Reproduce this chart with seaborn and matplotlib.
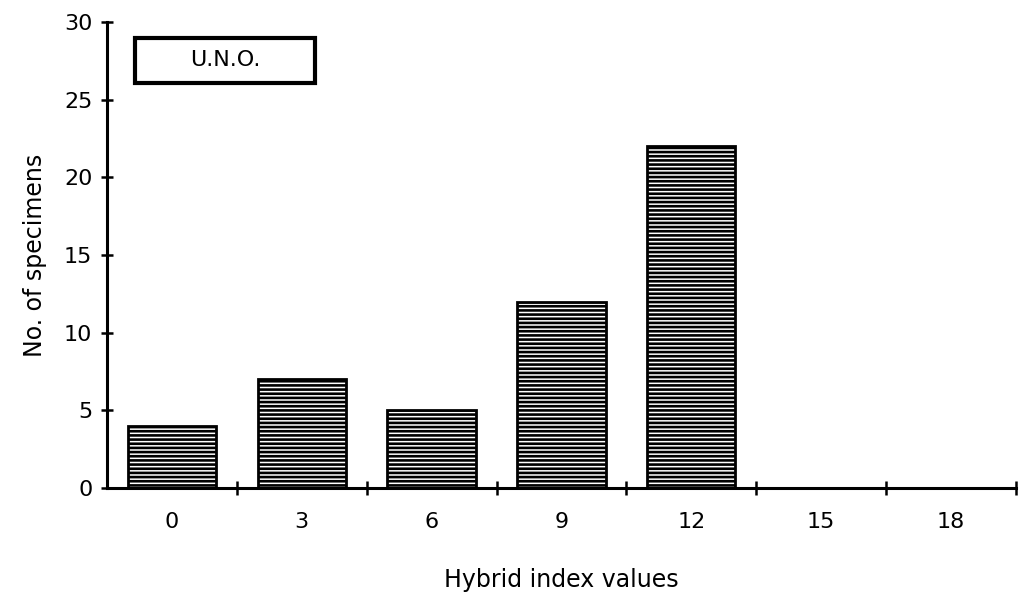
import numpy as np
import pandas as pd
import matplotlib
matplotlib.use("Agg")
import matplotlib.pyplot as plt
import seaborn as sns
from matplotlib.patches import Rectangle

# -----------------------------
# Data
# -----------------------------
hybrid_index = ["0", "3", "6", "9", "12", "15", "18"]
specimens = [4, 7, 5, 12, 22, 0, 0]
legend_label = "U.N.O."

df = pd.DataFrame({"index": hybrid_index, "count": specimens})

# -----------------------------
# Plot Settings
# -----------------------------
sns.set_style("white")
plt.rcParams["font.family"] = ["DejaVu Sans"]
plt.rcParams["text.color"] = "black"
plt.rcParams["axes.labelcolor"] = "black"
plt.rcParams["xtick.color"] = "black"
plt.rcParams["ytick.color"] = "black"
plt.rcParams["hatch.linewidth"] = 1.9
plt.rcParams["hatch.color"] = "black"

fig = plt.figure(figsize=(10.21, 6.04), dpi=100)
ax = fig.add_axes([0.1048, 0.192, 0.8902, 0.7715])

sns.barplot(
    x="index",
    y="count",
    data=df,
    color="white",
    edgecolor="black",
    linewidth=2,
    width=0.68,
    hatch="----",
    ax=ax
)

ax.set_xlim(-0.5, len(hybrid_index) - 0.5)
ax.set_ylim(0, 30)
ax.set_yticks(range(0, 31, 5))

# labels centred under bars, ticks on the boundaries
ax.tick_params(axis="x", which="major", bottom=False, length=0, pad=17, labelsize=16)
ax.set_xticks(np.arange(0.5, len(hybrid_index), 1.0), minor=True)
ax.tick_params(axis="x", which="minor", bottom=True, direction="inout", length=10, width=1.8)
ax.tick_params(axis="y", left=True, direction="inout", length=9, width=1.8, labelsize=16, pad=6)

for side in ["top", "right"]:
    ax.spines[side].set_visible(False)
for side in ["left", "bottom"]:
    ax.spines[side].set_linewidth(2.2)
    ax.spines[side].set_color("black")

ax.set_xlabel("Hybrid index values", fontsize=17, labelpad=26)
ax.set_ylabel("No. of specimens", fontsize=17, labelpad=12)

# legend box
ax.add_patch(Rectangle((0.031, 26.1 / 30), 0.198, 2.9 / 30, transform=ax.transAxes,
                       facecolor="white", edgecolor="black", linewidth=3, clip_on=False))
ax.text(0.13, 27.55 / 30, legend_label, transform=ax.transAxes,
        ha="center", va="center", fontsize=16)

plt.savefig("out.png", dpi=100)
